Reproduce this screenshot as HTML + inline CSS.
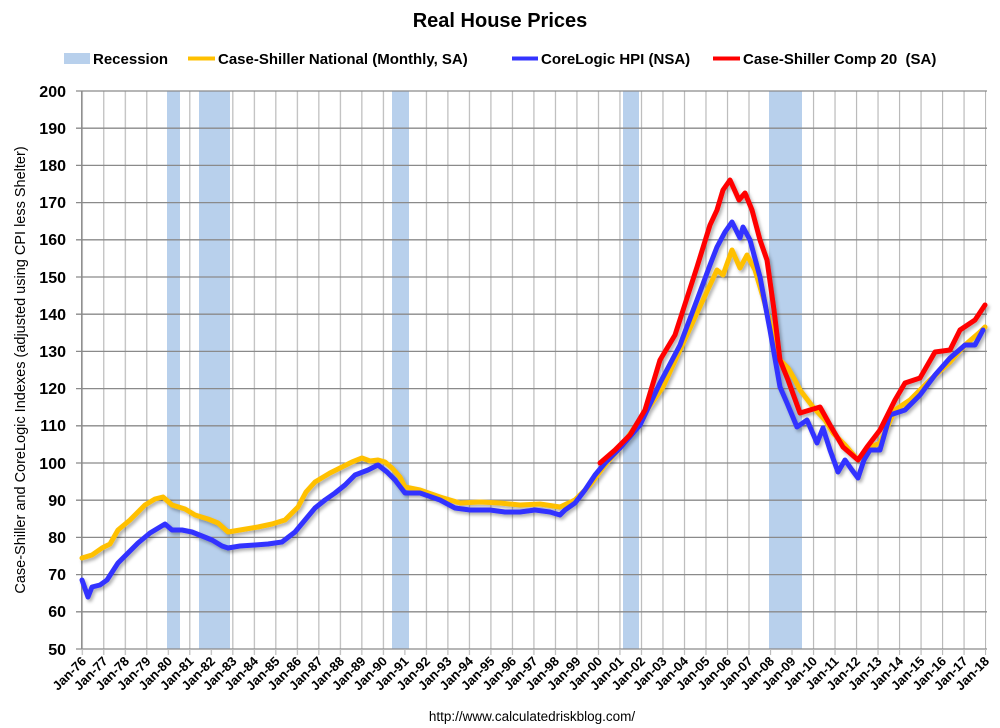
<!DOCTYPE html>
<html><head><meta charset="utf-8"><style>
body{margin:0;background:#fff;}
svg{display:block;font-family:"Liberation Sans",sans-serif;}
.yl{font-size:16px;font-weight:bold;text-anchor:end;}
.xl{font-size:13px;font-weight:bold;text-anchor:end;}
.lg{font-size:15px;font-weight:bold;}
</style></head><body>
<svg width="1000" height="728" viewBox="0 0 1000 728">
<defs>
<pattern id="vg" x="81.7" y="0" width="21.507" height="728" patternUnits="userSpaceOnUse">
<line x1="0.5" y1="0" x2="0.5" y2="728" stroke="#b8b8b8" stroke-width="1.3"/>
</pattern>
<filter id="sh" x="-5%" y="-5%" width="110%" height="110%">
<feDropShadow dx="2" dy="2.5" stdDeviation="1.5" flood-color="#000" flood-opacity="0.3"/>
</filter>
</defs>
<text x="500" y="27" text-anchor="middle" font-size="20" font-weight="bold">Real House Prices</text>
<rect x="64" y="53" width="26" height="11" fill="#b8d0ec"/>
<text class="lg" x="93" y="64">Recession</text>
<line x1="188" y1="58.5" x2="215" y2="58.5" stroke="#ffc000" stroke-width="4"/>
<text class="lg" x="218" y="64">Case-Shiller National (Monthly, SA)</text>
<line x1="512" y1="58.5" x2="538" y2="58.5" stroke="#3333ff" stroke-width="4"/>
<text class="lg" x="541" y="64">CoreLogic HPI (NSA)</text>
<line x1="713" y1="58.5" x2="740" y2="58.5" stroke="#ff0000" stroke-width="4"/>
<text class="lg" x="743" y="64">Case-Shiller Comp 20&#160; (SA)</text>

<rect x="81.2" y="91" width="905" height="558" fill="url(#vg)"/>
<g fill="#b8d0ec">
<rect x="167" y="91" width="13" height="558"/>
<rect x="199" y="91" width="31" height="558"/>
<rect x="392" y="91" width="17" height="558"/>
<rect x="623" y="91" width="16" height="558"/>
<rect x="769" y="91" width="33" height="558"/>
</g>
<g stroke="#8a8a8a" stroke-width="1.3">
<line x1="76" y1="91" x2="987" y2="91"/><line x1="76" y1="128.2" x2="987" y2="128.2"/>
<line x1="76" y1="165.4" x2="987" y2="165.4"/><line x1="76" y1="202.6" x2="987" y2="202.6"/>
<line x1="76" y1="239.8" x2="987" y2="239.8"/><line x1="76" y1="277" x2="987" y2="277"/>
<line x1="76" y1="314.2" x2="987" y2="314.2"/><line x1="76" y1="351.4" x2="987" y2="351.4"/>
<line x1="76" y1="388.6" x2="987" y2="388.6"/><line x1="76" y1="425.8" x2="987" y2="425.8"/>
<line x1="76" y1="463" x2="987" y2="463"/><line x1="76" y1="500.2" x2="987" y2="500.2"/>
<line x1="76" y1="537.4" x2="987" y2="537.4"/><line x1="76" y1="574.6" x2="987" y2="574.6"/>
<line x1="76" y1="611.8" x2="987" y2="611.8"/><line x1="76" y1="649" x2="987" y2="649"/>
<line x1="81.7" y1="91" x2="81.7" y2="649"/>
</g>
<rect x="81.2" y="649" width="905" height="6" fill="url(#vg)"/>
<g class="yl">
<text x="66" y="97">200</text><text x="66" y="134">190</text><text x="66" y="171">180</text>
<text x="66" y="208">170</text><text x="66" y="245">160</text><text x="66" y="283">150</text>
<text x="66" y="320">140</text><text x="66" y="357">130</text><text x="66" y="394">120</text>
<text x="66" y="431">110</text><text x="66" y="469">100</text><text x="66" y="506">90</text>
<text x="66" y="543">80</text><text x="66" y="580">70</text><text x="66" y="617">60</text>
<text x="66" y="655">50</text>
</g>
<text transform="translate(25,370) rotate(-90)" text-anchor="middle" font-size="14.5">Case-Shiller and CoreLogic Indexes (adjusted using CPI less Shelter)</text>

<g class="xl">
<text transform="translate(87,662) rotate(-45)">Jan-76</text>
<text transform="translate(108.5,662) rotate(-45)">Jan-77</text>
<text transform="translate(130,662) rotate(-45)">Jan-78</text>
<text transform="translate(151.5,662) rotate(-45)">Jan-79</text>
<text transform="translate(173,662) rotate(-45)">Jan-80</text>
<text transform="translate(194.5,662) rotate(-45)">Jan-81</text>
<text transform="translate(216,662) rotate(-45)">Jan-82</text>
<text transform="translate(237.5,662) rotate(-45)">Jan-83</text>
<text transform="translate(259,662) rotate(-45)">Jan-84</text>
<text transform="translate(280.5,662) rotate(-45)">Jan-85</text>
<text transform="translate(302,662) rotate(-45)">Jan-86</text>
<text transform="translate(323.5,662) rotate(-45)">Jan-87</text>
<text transform="translate(345,662) rotate(-45)">Jan-88</text>
<text transform="translate(366.5,662) rotate(-45)">Jan-89</text>
<text transform="translate(388,662) rotate(-45)">Jan-90</text>
<text transform="translate(409.5,662) rotate(-45)">Jan-91</text>
<text transform="translate(431,662) rotate(-45)">Jan-92</text>
<text transform="translate(452.5,662) rotate(-45)">Jan-93</text>
<text transform="translate(474,662) rotate(-45)">Jan-94</text>
<text transform="translate(495.5,662) rotate(-45)">Jan-95</text>
<text transform="translate(517,662) rotate(-45)">Jan-96</text>
<text transform="translate(538.5,662) rotate(-45)">Jan-97</text>
<text transform="translate(560,662) rotate(-45)">Jan-98</text>
<text transform="translate(581.5,662) rotate(-45)">Jan-99</text>
<text transform="translate(603,662) rotate(-45)">Jan-00</text>
<text transform="translate(624.5,662) rotate(-45)">Jan-01</text>
<text transform="translate(646,662) rotate(-45)">Jan-02</text>
<text transform="translate(667.5,662) rotate(-45)">Jan-03</text>
<text transform="translate(689,662) rotate(-45)">Jan-04</text>
<text transform="translate(710.5,662) rotate(-45)">Jan-05</text>
<text transform="translate(732,662) rotate(-45)">Jan-06</text>
<text transform="translate(753.5,662) rotate(-45)">Jan-07</text>
<text transform="translate(775,662) rotate(-45)">Jan-08</text>
<text transform="translate(796.5,662) rotate(-45)">Jan-09</text>
<text transform="translate(818,662) rotate(-45)">Jan-10</text>
<text transform="translate(839.5,662) rotate(-45)">Jan-11</text>
<text transform="translate(861,662) rotate(-45)">Jan-12</text>
<text transform="translate(882.5,662) rotate(-45)">Jan-13</text>
<text transform="translate(904,662) rotate(-45)">Jan-14</text>
<text transform="translate(925.5,662) rotate(-45)">Jan-15</text>
<text transform="translate(947,662) rotate(-45)">Jan-16</text>
<text transform="translate(968.5,662) rotate(-45)">Jan-17</text>
<text transform="translate(990,662) rotate(-45)">Jan-18</text>
</g>
<text x="532" y="721" text-anchor="middle" font-size="13.5">http://www.calculatedriskblog.com/</text>

<g fill="none" stroke-width="5" stroke-linejoin="round" stroke-linecap="round" filter="url(#sh)">
<polyline stroke="#ffc000" points="82,558 92,555 102,548 110,544 118,530 130,520 145,505 155,499 163,497 172,505 185,509 195,515 208,519 218,523 228,532 240,530 258,527 272,524 285,520 298,507 306,492 315,482 330,473 342,467 352,462 362,458 370,461 378,460 385,462 392,468 400,477 405,487 420,490 440,497 460,503 480,502 500,503 520,505 540,504 560,507 575,500 590,485 605,465 620,448 640,420 663,387 680,350 697,313 710,285 717,270 723,275 732,250 740,268 747,255 755,270 763,297 772,330 780,360 788,368 795,380 800,390 813,407 825,420 833,433 845,445 858,460 868,448 880,443 895,410 910,400 930,380 950,362 965,345 980,332 985,327"/>
<polyline stroke="#3333ff" points="82,580 88,597 92,587 100,585 107,580 118,563 128,553 138,543 150,533 165,524 172,530 182,530 192,532 202,536 212,540 222,546 228,548 240,546 255,545 268,544 282,542 295,532 305,520 315,508 325,500 335,493 345,485 355,475 368,470 378,465 387,472 395,480 405,493 420,493 440,500 455,508 470,510 490,510 505,512 520,512 535,510 550,512 560,515 565,510 575,503 585,490 595,475 605,463 620,448 640,425 660,383 680,345 697,300 710,265 717,247 725,232 732,222 740,238 743,227 750,240 760,277 770,330 780,387 787,403 797,427 807,420 817,443 823,428 830,450 838,472 845,460 852,470 858,478 864,460 870,450 880,450 890,415 905,410 920,395 935,375 950,358 965,345 975,345 983,330"/>
<polyline stroke="#ff0000" points="600,463 615,450 630,435 645,410 660,360 675,335 697,267 710,225 717,210 723,190 730,180 739,200 745,193 752,210 760,240 767,260 774,310 780,360 788,380 800,413 810,410 820,407 830,425 843,447 858,460 867,447 880,430 895,400 905,383 920,378 935,352 950,350 960,330 975,320 985,305"/>
</g>
</svg>
</body></html>
